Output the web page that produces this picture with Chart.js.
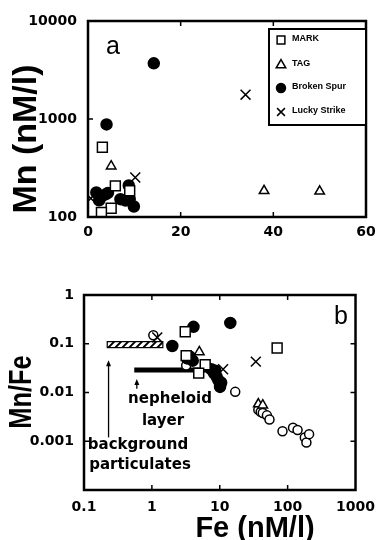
<!DOCTYPE html>
<html>
<head>
<meta charset="utf-8">
<script src="https://cdn.jsdelivr.net/npm/chart.js@4"></script>
<style>
  body { margin: 0; background: #fff; }
  #wrap { position: relative; width: 384px; height: 540px; font-family: "Liberation Sans", Arial, sans-serif; color: #000; }
  canvas { position: absolute; left: 0; }
  .lbl { position: absolute; transform: translate(-50%, -50%); white-space: nowrap; line-height: 1; }
  .b { font-weight: bold; }
  .dv { font-family: "DejaVu Sans", sans-serif; font-weight: bold; }
</style>
</head>
<body>
<div id="wrap">
  <canvas id="chartA" width="384" height="250" style="top:0"></canvas>
  <canvas id="chartB" width="384" height="270" style="top:270px"></canvas>

  <div class="lbl b" style="left:24px;top:139px;font-size:34px;transform:translate(-50%,-50%) rotate(-90deg)">Mn (nM/l)</div>
  <div class="lbl" style="left:113px;top:45px;font-size:25px">a</div>

  <div class="lbl b" style="left:20px;top:392px;font-size:31px;transform:translate(-50%,-50%) rotate(-90deg) scaleX(0.82)">Mn/Fe</div>
  <div class="lbl b" style="left:255px;top:527px;font-size:29px">Fe (nM/l)</div>
  <div class="lbl" style="left:341px;top:315px;font-size:25px">b</div>
  <div class="lbl dv" style="left:170px;top:398px;font-size:15px">nepheloid</div>
  <div class="lbl dv" style="left:163px;top:420px;font-size:15px">layer</div>
  <div class="lbl dv" style="left:138px;top:444px;font-size:15px">background</div>
  <div class="lbl dv" style="left:140px;top:464px;font-size:15px">particulates</div>
</div>

<script>
// Panel a: Mn (nM/l) against Fe (nM/l)
const markFeA = [3.1, 5.9, 5.0, 2.9, 9.0];
const markMnA = [515, 208, 123, 111, 185];
const tagFeA = [5.0, 38, 50];
const tagMnA = [330, 185, 183];
const spurFeA = [14.2, 4.0, 1.8, 2.4, 3.8, 4.3, 7.0, 8.1, 8.8, 9.0, 9.9, 2.8];
const spurMnA = [3700, 880, 178, 148, 170, 176, 152, 147, 210, 152, 128, 160];
const luckyFeA = [10.2, 34, 0.6];
const luckyMnA = [253, 1770, 155];

// Panel b: Mn/Fe against Fe (nM/l)
const markFeB = [3.1, 3.2, 6.1, 4.9, 70];
const markRatioB = [0.176, 0.057, 0.037, 0.025, 0.082];
const tagFeB = [5.0, 37, 43];
const tagRatioB = [0.068, 0.0058, 0.0055];
const spurFeB = [14.3, 4.1, 2.0, 3.3, 4.0, 3.6, 7.5, 8.2, 9.0, 9.5, 10.1, 10.5, 8.6];
const spurRatioB = [0.268, 0.222, 0.09, 0.05, 0.045, 0.055, 0.03, 0.025, 0.021, 0.018, 0.013, 0.016, 0.028];
const luckyFeB = [1.2, 11.2, 34];
const luckyRatioB = [0.135, 0.03, 0.043];
const otherFeB = [1.05, 3.2, 16.9, 37, 40, 43, 49.5, 54, 84, 120, 140, 179, 189, 207];
const otherRatioB = [0.15, 0.036, 0.0103, 0.0044, 0.0040, 0.0038, 0.0034, 0.0028, 0.0016, 0.0019, 0.0017, 0.0012, 0.00094, 0.0014];

// reference bands and arrows in panel b
const backgroundFe = [0.22, 1.45];
const backgroundRatio = 0.096;
const nepheloidFe = [0.55, 8];
const nepheloidRatio = 0.029;
const backgroundArrow = { fe: 0.23, from: 0.0012, to: 0.046 };
const nepheloidArrow = { fe: 0.6, from: 0.012, to: 0.019 };

// tick labels
const ticksAX = [0, 20, 40, 60];
const ticksAY = [100, 1000, 10000];
const ticksBX = [0.1, 1, 10, 100, 1000];
const ticksBY = [0.0001, 0.001, 0.01, 0.1, 1];

const FONT = "'Liberation Sans', Arial, sans-serif";
const TICK_FONT = "'DejaVu Sans', sans-serif";

function toPoints( xs, ys ) {
    return xs.map((x, i) => ({ x: x, y: ys[i] }));
}

function series( label, xs, ys, style, radius, filled ) {
    return {
        label: label,
        data: toPoints(xs, ys),
        pointStyle: style,
        pointRadius: radius,
        pointBorderWidth: 1.5,
        borderColor: '#000',
        backgroundColor: filled ? '#000' : '#fff',
        showLine: false,
    };
}

function fixedTicks( values ) {
    return function (scale) {
        scale.ticks = values.map(v => ({ value: v }));
    };
}

// frame and inward tick marks on all four sides
const frameTicks = {
    id: 'frameTicks',
    afterDraw(chart) {
        const { ctx, chartArea: a, scales } = chart;
        ctx.save();
        ctx.strokeStyle = '#000';
        ctx.lineWidth = 1.5;
        ctx.beginPath();
        scales.x.ticks.forEach(t => {
            const px = scales.x.getPixelForValue(t.value);
            if (px <= a.left + 2 || px >= a.right - 2) return;
            ctx.moveTo(px, a.bottom); ctx.lineTo(px, a.bottom - 5);
            ctx.moveTo(px, a.top); ctx.lineTo(px, a.top + 5);
        });
        scales.y.ticks.forEach(t => {
            const py = scales.y.getPixelForValue(t.value);
            if (py <= a.top + 2 || py >= a.bottom - 2) return;
            ctx.moveTo(a.left, py); ctx.lineTo(a.left + 5, py);
            ctx.moveTo(a.right, py); ctx.lineTo(a.right - 5, py);
        });
        ctx.stroke();
        ctx.lineWidth = 2.5;
        ctx.strokeRect(a.left, a.top, a.right - a.left, a.bottom - a.top);
        ctx.restore();
    }
};

// boxed legend inside panel a
const boxLegend = {
    id: 'boxLegend',
    afterDraw(chart) {
        const ctx = chart.ctx;
        const box = { left: 269, top: 29, right: chart.chartArea.right, bottom: 125 };
        const rows = [40, 65, 88, 112];
        ctx.save();
        ctx.fillStyle = '#fff';
        ctx.fillRect(box.left, box.top, box.right - box.left, box.bottom - box.top);
        ctx.strokeStyle = '#000';
        ctx.lineWidth = 2;
        ctx.strokeRect(box.left, box.top, box.right - box.left, box.bottom - box.top);
        chart.data.datasets.forEach((ds, i) => {
            ctx.lineWidth = 1.5;
            ctx.strokeStyle = '#000';
            ctx.fillStyle = ds.backgroundColor;
            Chart.helpers.drawPoint(ctx, {
                pointStyle: ds.pointStyle,
                radius: ds.pointStyle === 'circle' ? 4.5 : 5.5,
                borderWidth: 1.5,
            }, 281, rows[i]);
            ctx.fillStyle = '#000';
            ctx.font = 'bold 9px ' + FONT;
            ctx.textBaseline = 'middle';
            ctx.fillText(ds.label, 292, rows[i] - 1);
        });
        ctx.restore();
    }
};

// hatched band and arrows in panel b
const bandsAndArrows = {
    id: 'bandsAndArrows',
    beforeDatasetsDraw(chart) {
        const { ctx, scales } = chart;
        const x0 = scales.x.getPixelForValue(backgroundFe[0]);
        const x1 = scales.x.getPixelForValue(backgroundFe[1]);
        const yc = scales.y.getPixelForValue(backgroundRatio);
        ctx.save();
        ctx.fillStyle = '#fff';
        ctx.fillRect(x0, yc - 3, x1 - x0, 6);
        ctx.strokeStyle = '#000';
        ctx.lineWidth = 1.2;
        ctx.strokeRect(x0, yc - 3, x1 - x0, 6);
        ctx.beginPath();
        ctx.rect(x0, yc - 3, x1 - x0, 6);
        ctx.clip();
        ctx.lineWidth = 2;
        ctx.beginPath();
        for (let x = x0 - 6; x < x1 + 6; x += 7) {
            ctx.moveTo(x, yc + 3);
            ctx.lineTo(x + 6, yc - 3);
        }
        ctx.stroke();
        ctx.restore();

        ctx.save();
        ctx.strokeStyle = '#000';
        ctx.fillStyle = '#000';
        ctx.lineWidth = 1.3;
        [backgroundArrow, nepheloidArrow].forEach(a => {
            const px = scales.x.getPixelForValue(a.fe);
            const yb = scales.y.getPixelForValue(a.from);
            const yt = scales.y.getPixelForValue(a.to);
            ctx.beginPath();
            ctx.moveTo(px, yb);
            ctx.lineTo(px, yt + 4);
            ctx.stroke();
            ctx.beginPath();
            ctx.moveTo(px, yt);
            ctx.lineTo(px - 2.5, yt + 6);
            ctx.lineTo(px + 2.5, yt + 6);
            ctx.closePath();
            ctx.fill();
        });
        ctx.restore();
    }
};

function axisBase( extra ) {
    return Object.assign({
        grid: { display: false, drawTicks: false },
        border: { display: false },
        ticks: {
            color: '#000',
            font: { family: TICK_FONT, size: 14, weight: 'bold' },
            maxRotation: 0,
            autoSkip: false,
        },
    }, extra);
}

const commonOptions = {
    responsive: false,
    animation: false,
    events: [],
    plugins: { legend: { display: false }, tooltip: { enabled: false } },
};

// Panel a
const axA = axisBase({ type: 'linear', min: 0, max: 60, afterBuildTicks: fixedTicks(ticksAX),
    afterFit: s => { s.height = 33; } });
axA.ticks.padding = 7;
const ayA = axisBase({ type: 'logarithmic', min: 100, max: 10000, afterBuildTicks: fixedTicks(ticksAY),
    afterFit: s => { s.width = 88; } });
ayA.ticks.padding = 11;
ayA.ticks.callback = v => String(v);

new Chart(document.getElementById('chartA'), {
    type: 'scatter',
    data: {
        datasets: [
            series('MARK', markFeA, markMnA, 'rect', 7, false),
            series('TAG', tagFeA, tagMnA, 'triangle', 5.5, false),
            series('Broken Spur', spurFeA, spurMnA, 'circle', 5.5, true),
            series('Lucky Strike', luckyFeA, luckyMnA, 'crossRot', 7, false),
        ],
    },
    options: Object.assign({}, commonOptions, {
        layout: { padding: { top: 21, right: 18, left: 0, bottom: 0 }, autoPadding: false },
        scales: { x: axA, y: ayA },
    }),
    plugins: [frameTicks, boxLegend],
});

// Panel b
const axB = axisBase({ type: 'logarithmic', min: 0.1, max: 1000, afterBuildTicks: fixedTicks(ticksBX),
    afterFit: s => { s.height = 50; } });
axB.ticks.padding = 9;
axB.ticks.callback = v => String(v);
const ayB = axisBase({ type: 'logarithmic', min: 0.0001, max: 1, afterBuildTicks: fixedTicks(ticksBY),
    afterFit: s => { s.width = 84; } });
ayB.ticks.padding = 10;
ayB.ticks.callback = v => (v === 0.0001 ? '' : String(v));

new Chart(document.getElementById('chartB'), {
    type: 'scatter',
    data: {
        datasets: [
            series('MARK', markFeB, markRatioB, 'rect', 7, false),
            series('TAG', tagFeB, tagRatioB, 'triangle', 5.5, false),
            series('Lucky Strike', luckyFeB, luckyRatioB, 'crossRot', 7, false),
            series('Broken Spur', spurFeB, spurRatioB, 'circle', 5.5, true),
            series('other', otherFeB, otherRatioB, 'circle', 4.5, false),
            {
                label: 'nepheloid layer',
                type: 'line',
                data: toPoints(nepheloidFe, [nepheloidRatio, nepheloidRatio]),
                borderColor: '#000',
                borderWidth: 5,
                pointRadius: 0,
            },
        ],
    },
    options: Object.assign({}, commonOptions, {
        layout: { padding: { top: 25, right: 21, left: 0, bottom: 0 }, autoPadding: false },
        scales: { x: axB, y: ayB },
    }),
    plugins: [frameTicks, bandsAndArrows],
});
</script>
</body>
</html>
